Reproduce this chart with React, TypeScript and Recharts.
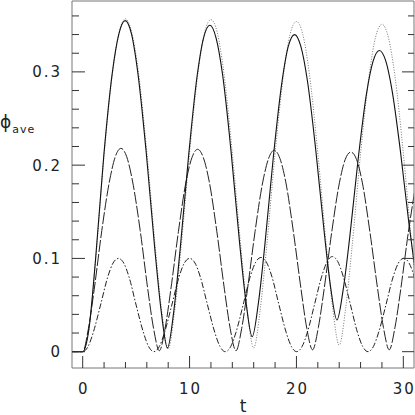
import React from "react";
import { LineChart, Line, XAxis, YAxis, Label } from "recharts";

// tick positions
const xTicks = [0, 2, 4, 6, 8, 10, 12, 14, 16, 18, 20, 22, 24, 26, 28, 30];
const yTicks = [
  0, 0.02, 0.04, 0.06, 0.08, 0.1, 0.12, 0.14, 0.16, 0.18, 0.2, 0.22, 0.24, 0.26,
  0.28, 0.3, 0.32, 0.34, 0.36,
];
const xLabels = ["0", "10", "20", "30"];
const yLabels = ["0", "0.1", "0.2", "0.3"];

// solid curve
const solidT = [
  -1, 0, 0.59, 1.19, 1.98, 2.77, 3.37, 3.97, 4.56, 5.16, 5.95, 6.74, 7.34, 7.93,
  8.52, 9.12, 9.91, 10.7, 11.3, 11.9, 12.49, 13.09, 13.88, 14.67, 15.27, 15.86,
  16.45, 17.05, 17.84, 18.63, 19.23, 19.83, 20.42, 21.02, 21.81, 22.6, 23.2, 23.79,
  24.38, 24.98, 25.77, 26.56, 27.16, 27.76, 28.35, 28.95, 29.74, 30.53, 31.13,
];
const solidPhi = [
  0, 0, 0.025, 0.097, 0.211, 0.299, 0.34, 0.355, 0.341, 0.299, 0.213, 0.111, 0.044, 0.004,
  0.043, 0.11, 0.21, 0.295, 0.336, 0.35, 0.336, 0.297, 0.215, 0.118, 0.054, 0.016,
  0.053, 0.115, 0.209, 0.288, 0.327, 0.34, 0.327, 0.291, 0.216, 0.128, 0.069, 0.034,
  0.067, 0.122, 0.206, 0.277, 0.311, 0.323, 0.312, 0.28, 0.214, 0.137, 0.085,
];

// dotted curve
const dottedT = [
  -1, 0, 0.6, 1.2, 2.0, 2.8, 3.4, 4.0, 4.6, 5.2, 6.0, 6.8, 7.4, 8.0,
  8.6, 9.2, 10.0, 10.8, 11.4, 12.0, 12.6, 13.2, 14.0, 14.8, 15.4, 16.0,
  16.6, 17.2, 18.0, 18.8, 19.4, 20.0, 20.6, 21.2, 22.0, 22.8, 23.4, 24.0,
  24.6, 25.2, 26.0, 26.8, 27.4, 28.0, 28.6, 29.2, 30.0, 30.8, 31.4,
];
const dottedPhi = [
  0, 0, 0.025, 0.097, 0.211, 0.3, 0.342, 0.357, 0.342, 0.301, 0.214, 0.111, 0.043, 0.003,
  0.043, 0.111, 0.213, 0.3, 0.342, 0.356, 0.342, 0.3, 0.213, 0.112, 0.044, 0.004,
  0.044, 0.111, 0.212, 0.298, 0.34, 0.354, 0.34, 0.299, 0.213, 0.113, 0.046, 0.007,
  0.046, 0.112, 0.212, 0.296, 0.337, 0.351, 0.337, 0.297, 0.213, 0.114, 0.049,
];

// long dashed curve
const dashT = [
  -1, 0, 0.54, 1.08, 1.79, 2.51, 3.05, 3.58, 4.12, 4.66, 5.38, 6.09, 6.63, 7.17,
  7.71, 8.25, 8.96, 9.68, 10.22, 10.75, 11.29, 11.83, 12.55, 13.26, 13.8, 14.34,
  14.88, 15.42, 16.13, 16.85, 17.39, 17.92, 18.46, 19.0, 19.71, 20.43, 20.97, 21.51,
  22.05, 22.59, 23.3, 24.02, 24.56, 25.09, 25.63, 26.17, 26.88, 27.6, 28.14, 28.68,
  29.22, 29.76, 30.47, 31.19,
];
const dashPhi = [
  0, 0, 0.025, 0.067, 0.13, 0.183, 0.209, 0.218, 0.209, 0.183, 0.13, 0.067, 0.025, 0.001,
  0.025, 0.067, 0.129, 0.183, 0.208, 0.217, 0.208, 0.183, 0.129, 0.067, 0.025, 0.001,
  0.025, 0.067, 0.129, 0.182, 0.207, 0.216, 0.207, 0.182, 0.129, 0.067, 0.025, 0.002,
  0.026, 0.067, 0.128, 0.181, 0.206, 0.214, 0.206, 0.181, 0.128, 0.067, 0.026, 0.002,
  0.026, 0.067, 0.128, 0.181,
];

// dash-dot curve
const dotDashT = [
  -1, 0, 0.5, 1.0, 1.67, 2.34, 2.84, 3.34, 3.84, 4.34, 5.0, 5.67, 6.17, 6.67,
  7.17, 7.67, 8.34, 9.01, 9.51, 10.01, 10.51, 11.01, 11.68, 12.35, 12.85, 13.35,
  13.85, 14.35, 15.02, 15.69, 16.19, 16.69, 17.19, 17.69, 18.36, 19.03, 19.53, 20.03,
  20.53, 21.03, 21.7, 22.37, 22.87, 23.37, 23.87, 24.37, 25.04, 25.7, 26.2, 26.7,
  27.2, 27.7, 28.37, 29.04, 29.54, 30.04, 30.54, 31.04,
];
const dotDashPhi = [
  0, 0, 0.0055, 0.021, 0.05, 0.08, 0.095, 0.1, 0.095, 0.08, 0.05, 0.021, 0.0055, 0,
  0.0055, 0.021, 0.05, 0.08, 0.095, 0.1, 0.095, 0.08, 0.05, 0.021, 0.0055, 0,
  0.0055, 0.021, 0.0505, 0.081, 0.096, 0.101, 0.096, 0.081, 0.0505, 0.021, 0.0055, 0,
  0.0056, 0.021, 0.051, 0.081, 0.0965, 0.102, 0.0965, 0.081, 0.051, 0.021, 0.0056, 0,
  0.0055, 0.021, 0.05, 0.08, 0.095, 0.1, 0.095, 0.08,
];

const toData = (ts: number[], ys: number[]) => ts.map((t, i) => ({ t, phi: ys[i] }));

const FONT = "'DejaVu Sans', sans-serif";
const TICK = "#333";
const AXIS = "#777";

const isMajorX = (v: number) => xLabels.includes(String(v));
const yLabelOf = (v: number) => yLabels.find((s) => Math.abs(Number(s) - v) < 1e-6);

function BottomTick({ x, y, payload }: any) {
  const major = isMajorX(payload.value);
  return (
    <g>
      <line x1={x} x2={x} y1={y} y2={y - (major ? 12 : 6)} stroke={TICK} />
      {major && (
        <text x={x} y={y + 26} dx={1} textAnchor="middle" fontFamily={FONT} fontSize={15} letterSpacing={2} fill="#222">
          {payload.value}
        </text>
      )}
    </g>
  );
}

function TopTick({ x, y, payload }: any) {
  const major = isMajorX(payload.value);
  return <line x1={x} x2={x} y1={y} y2={y + (major ? 12 : 6)} stroke={TICK} />;
}

function LeftTick({ x, y, payload }: any) {
  const label = yLabelOf(payload.value);
  return (
    <g>
      <line x1={x} x2={x + (label ? 13 : 7)} y1={y} y2={y} stroke={TICK} />
      {label && (
        <text x={x - 10} y={y} dy="0.36em" textAnchor="end" fontFamily={FONT} fontSize={15} letterSpacing={2} fill="#222">
          {label}
        </text>
      )}
    </g>
  );
}

function RightTick({ x, y, payload }: any) {
  const label = yLabelOf(payload.value);
  return <line x1={x} x2={x - (label ? 12 : 6)} y1={y} y2={y} stroke={TICK} />;
}

function PhiLabel() {
  return (
    <text x={0} y={128} fontFamily={FONT} fill="#222">
      <tspan fontSize={17}>ϕ</tspan>
      <tspan fontSize={11} dx={1} dy={5} letterSpacing={1}>ave</tspan>
    </text>
  );
}

export default function App() {
  const line = { type: "monotone" as const, dataKey: "phi", dot: false, activeDot: false, isAnimationActive: false };
  return (
    <div style={{ position: "absolute", left: 0, top: 0, background: "#fff" }}>
      <LineChart width={415} height={415} margin={{ top: 0, right: 0, bottom: 0, left: 0 }}>
        <XAxis
          dataKey="t"
          type="number"
          domain={[-1, 31]}
          allowDataOverflow
          ticks={xTicks}
          interval={0}
          height={47}
          tickSize={0}
          tickMargin={0}
          axisLine={{ stroke: AXIS }}
          tickLine={false}
          tick={BottomTick}
        >
          <Label value="t" position="insideBottom" offset={3} style={{ fontFamily: FONT, fontSize: 17, fill: "#222" }} />
        </XAxis>
        <XAxis
          xAxisId="top"
          orientation="top"
          type="number"
          domain={[-1, 31]}
          allowDataOverflow
          ticks={xTicks}
          interval={0}
          height={1}
          tickSize={0}
          tickMargin={0}
          axisLine={{ stroke: AXIS }}
          tickLine={false}
          tick={TopTick}
        />
        <YAxis
          type="number"
          domain={[-0.0175, 0.376]}
          allowDataOverflow
          ticks={yTicks}
          interval={0}
          width={72}
          tickSize={0}
          tickMargin={0}
          axisLine={{ stroke: AXIS }}
          tickLine={false}
          tick={LeftTick}
        >
          <Label content={PhiLabel} />
        </YAxis>
        <YAxis
          yAxisId="right"
          orientation="right"
          type="number"
          domain={[-0.0175, 0.376]}
          allowDataOverflow
          ticks={yTicks}
          interval={0}
          width={1}
          tickSize={0}
          tickMargin={0}
          axisLine={{ stroke: AXIS }}
          tickLine={false}
          tick={RightTick}
        />
        <Line {...line} data={toData(dottedT, dottedPhi)} stroke="#777" strokeWidth={1} strokeDasharray="1 1.6" />
        <Line {...line} data={toData(dotDashT, dotDashPhi)} stroke="#222" strokeWidth={1} strokeDasharray="6 2 1.5 2" />
        <Line {...line} data={toData(dashT, dashPhi)} stroke="#222" strokeWidth={1} strokeDasharray="12 2" />
        <Line {...line} data={toData(solidT, solidPhi)} stroke="#111" strokeWidth={1.1} />
      </LineChart>
    </div>
  );
}
